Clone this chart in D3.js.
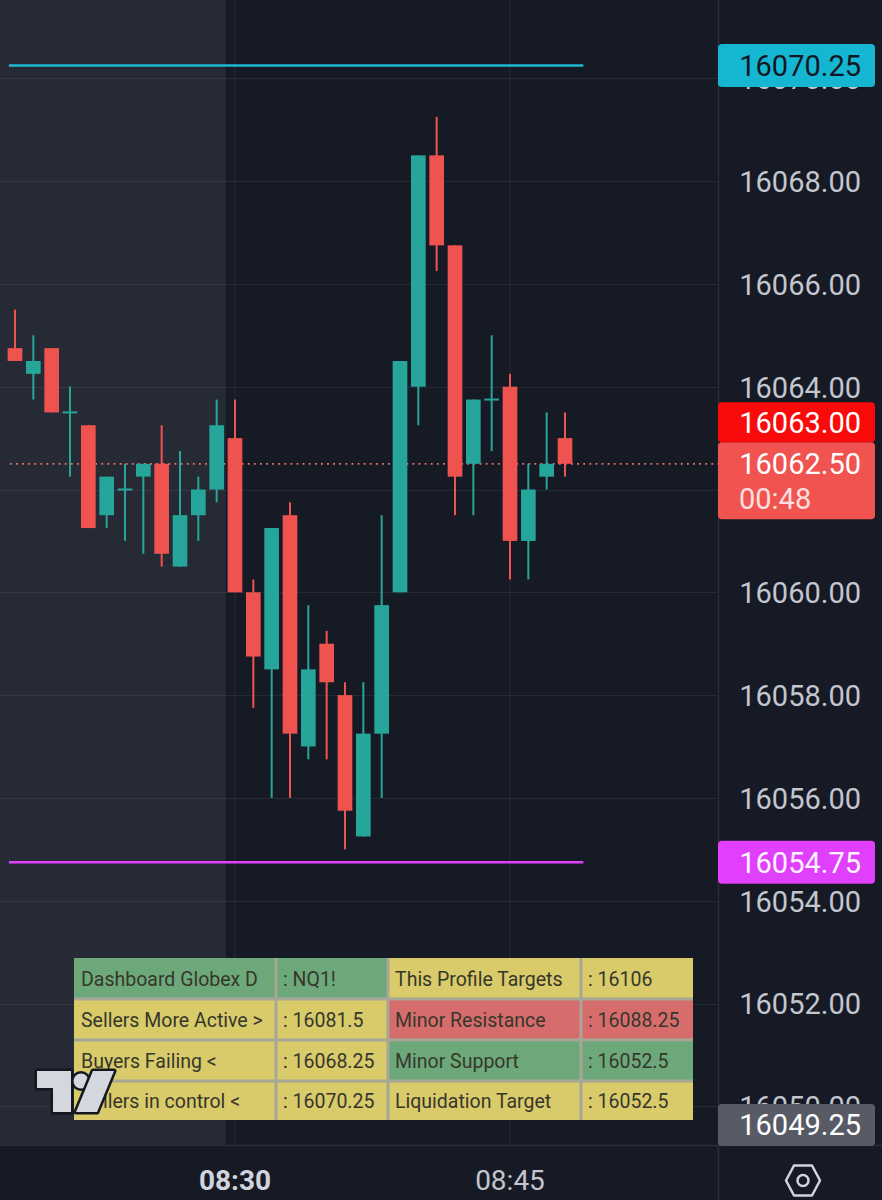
<!DOCTYPE html>
<html><head><meta charset="utf-8">
<script src="https://cdn.jsdelivr.net/npm/d3@7"></script>
<style>html,body{margin:0;padding:0;background:#161a25;overflow:hidden}svg{display:block}</style>
</head><body>
<script>
// ---- data ----
const times = ["08:18","08:19","08:20","08:21","08:22","08:23","08:24","08:25","08:26","08:27","08:28","08:29","08:30","08:31","08:32","08:33","08:34","08:35","08:36","08:37","08:38","08:39","08:40","08:41","08:42","08:43","08:44","08:45","08:46","08:47","08:48"];
const open  = [16064.75,16064.25,16064.75,16063.5,16063.25,16061.5,16062,16062.25,16062.5,16060.5,16061.5,16062,16063,16060,16058.5,16061.5,16057,16059,16058,16055.25,16057.25,16060,16064,16068.5,16066.75,16062.5,16063.75,16064,16061,16062.25,16063];
const high  = [16065.5,16065,16064.75,16064,16063.25,16062.25,16062.5,16062.5,16063.25,16062.75,16062.25,16063.75,16063.75,16060.25,16061.25,16061.75,16059.75,16059.25,16058.25,16058.25,16061.5,16064.5,16068.5,16069.25,16066.75,16063.75,16065,16064.25,16062.5,16063.5,16063.5];
const low   = [16064.5,16063.75,16063.5,16062.25,16061.25,16061.25,16061,16060.75,16060.5,16060.5,16061,16061.75,16060,16057.75,16056,16056,16056.75,16056.75,16055,16055.25,16056,16060,16063.25,16066.25,16061.5,16061.5,16062.75,16060.25,16060.25,16062,16062.25];
const close = [16064.5,16064.5,16063.5,16063.5,16061.25,16062.25,16062,16062.5,16060.75,16061.5,16062,16063.25,16060,16058.75,16061.25,16057.25,16058.5,16058.25,16055.75,16057.25,16059.75,16064.5,16068.5,16066.75,16062.25,16063.75,16063.75,16061,16062,16062.5,16062.5];
const priceTicks = [16050,16052,16054,16056,16058,16060,16062,16064,16066,16068,16070];
const timeTicks = ["08:30","08:45"];
const sessionStart = "08:30";
const upperLevel = 16070.25;
const lowerLevel = 16054.75;
const levelEnd = "08:49";
const lastPrice = 16062.50;
const countdown = "00:48";
const barHighLabel = 16063.00;
const visibleLowLabel = 16049.25;
const tableRows = [
  ["Dashboard Globex D", ": NQ1!", "This Profile Targets", ": 16106"],
  ["Sellers More Active >", ": 16081.5", "Minor Resistance", ": 16088.25"],
  ["Buyers Failing <", ": 16068.25", "Minor Support", ": 16052.5"],
  ["Sellers in control <", ": 16070.25", "Liquidation Target", ": 16052.5"]
];
const tableTones = [
  ["g","g","y","y"],
  ["y","y","r","r"],
  ["y","y","g","g"],
  ["y","y","y","y"]
];

// ---- layout ----
const W = 882, H = 1200;
const plotRight = 718, plotBottom = 1145;
const FONT = "Roboto, 'Noto Sans', sans-serif";
const UP = "#26a69a", DOWN = "#ef5350";

const parse = d3.timeParse("%H:%M");
const x = d3.scaleTime().domain([parse("08:30"), parse("08:45")]).range([235, 510]);
const y = d3.scaleLinear().domain([16052, 16068]).range([1003.5, 181.1]);
const step = x(parse("08:31")) - x(parse("08:30"));
const bodyW = step * 0.8;

const candles = times.map((t, i) => ({t: parse(t), o: open[i], h: high[i], l: low[i], c: close[i]}));

const svg = d3.select("body").append("svg").attr("width", W).attr("height", H)
  .style("font-family", FONT);

svg.append("rect").attr("width", W).attr("height", H).attr("fill", "#161a25");

// pre-session shading
svg.append("rect").attr("x", 0).attr("y", 0)
  .attr("width", x(parse(sessionStart)) - step / 2).attr("height", plotBottom)
  .attr("fill", "#262a34");

svg.append("clipPath").attr("id", "plot").append("rect")
  .attr("width", plotRight).attr("height", plotBottom);
const plot = svg.append("g").attr("clip-path", "url(#plot)");

// grid
plot.append("g").selectAll("line").data(priceTicks).join("line")
  .attr("x1", 0).attr("x2", plotRight)
  .attr("y1", d => Math.round(y(d)) + 0.5).attr("y2", d => Math.round(y(d)) + 0.5)
  .attr("stroke", "rgba(255,255,255,0.07)").attr("stroke-width", 1.2);
plot.append("g").selectAll("line").data(timeTicks).join("line")
  .attr("x1", d => x(parse(d))).attr("x2", d => x(parse(d)))
  .attr("y1", 0).attr("y2", plotBottom)
  .attr("stroke", "rgba(255,255,255,0.07)").attr("stroke-width", 1.2);

// level lines
const lvX0 = x(candles[0].t) - step / 3, lvX1 = x(parse(levelEnd));
plot.append("line").attr("x1", lvX0).attr("x2", lvX1)
  .attr("y1", y(upperLevel)).attr("y2", y(upperLevel))
  .attr("stroke", "#1fb8d2").attr("stroke-width", 2.5);
plot.append("line").attr("x1", lvX0).attr("x2", lvX1)
  .attr("y1", y(lowerLevel)).attr("y2", y(lowerLevel))
  .attr("stroke", "#e040fb").attr("stroke-width", 2.5);

// last price dotted line
plot.append("line").attr("x1", lvX0 + 1).attr("x2", plotRight)
  .attr("y1", y(lastPrice)).attr("y2", y(lastPrice))
  .attr("stroke", "#f0716e").attr("stroke-width", 1.8).attr("stroke-dasharray", "1.8,4.3");

// candles
const cg = plot.append("g").selectAll("g").data(candles).join("g");
cg.append("rect")
  .attr("x", d => x(d.t) - 1).attr("width", 2)
  .attr("y", d => y(d.h)).attr("height", d => Math.max(0.5, y(d.l) - y(d.h)))
  .attr("fill", d => d.c >= d.o ? UP : DOWN);
cg.append("rect")
  .attr("x", d => x(d.t) - bodyW / 2).attr("width", bodyW)
  .attr("y", d => d.o === d.c ? y(d.o) - 1 : y(Math.max(d.o, d.c)))
  .attr("height", d => Math.max(2, Math.abs(y(d.o) - y(d.c))))
  .attr("fill", d => d.c >= d.o ? UP : DOWN);

// dashboard table
const colEdges = [74, 276, 388, 581, 693];
const rowEdges = [958, 999, 1040, 1081, 1120];
const toneFill = {g: "#6da87a", y: "#d9ca6a", r: "#d66d6c"};
const tbl = svg.append("g");
tbl.append("rect").attr("x", colEdges[0]).attr("y", rowEdges[0])
  .attr("width", colEdges[4] - colEdges[0]).attr("height", rowEdges[4] - rowEdges[0])
  .attr("fill", "#a7a798");
tableRows.forEach((row, r) => {
  row.forEach((txt, c) => {
    const x0 = colEdges[c] + (c ? 1.5 : 0), x1 = colEdges[c + 1] - (c < 3 ? 1.5 : 0);
    const y0 = rowEdges[r] + (r ? 1.5 : 0), y1 = rowEdges[r + 1] - (r < 3 ? 1.5 : 0);
    tbl.append("rect").attr("x", x0).attr("y", y0).attr("width", x1 - x0).attr("height", y1 - y0)
      .attr("fill", toneFill[tableTones[r][c]]);
    tbl.append("text").attr("x", colEdges[c] + 7).attr("y", (rowEdges[r] + rowEdges[r + 1]) / 2)
      .attr("dy", "0.36em").attr("font-size", 19.5).attr("fill", "#36372c").text(txt);
  });
});

// TradingView logo
const logo = svg.append("g").attr("fill", "#d5d7de").attr("stroke", "#14171f")
  .attr("stroke-width", 5).attr("stroke-linejoin", "round").attr("paint-order", "stroke");
logo.append("path").attr("d", "M37,1071 L71,1071 L71,1112 L53,1112 L53,1088 L37,1088 Z");
logo.append("circle").attr("cx", 81).attr("cy", 1081).attr("r", 7.5);
logo.append("path").attr("d", "M93,1071 L114,1071 L97,1112 L76,1112 Z");

// axes panel borders
svg.append("line").attr("x1", plotRight + 0.5).attr("x2", plotRight + 0.5).attr("y1", 0).attr("y2", H)
  .attr("stroke", "#2a2e39").attr("stroke-width", 1.5);
svg.append("line").attr("x1", 0).attr("x2", W).attr("y1", plotBottom + 0.5).attr("y2", plotBottom + 0.5)
  .attr("stroke", "#2a2e39").attr("stroke-width", 1.5);

// price label boxes geometry
const curTop = y(lastPrice) - 21.5, curH = 77;
const hiTop = curTop - 40;

// price axis (labels fully covered by the last-price box are not drawn)
const shownTicks = priceTicks.filter(v => !(y(v) > hiTop + 8 && y(v) < curTop + curH - 8));
const yAxis = svg.append("g").attr("transform", "translate(861,0)")
  .call(d3.axisRight(y).tickValues(shownTicks).tickFormat(d3.format(".2f")).tickSize(0));
yAxis.select(".domain").remove();
yAxis.selectAll("text").attr("x", 0).attr("dy", "0.36em").attr("text-anchor", "end")
  .attr("font-family", FONT).attr("font-size", 29).attr("fill", "#c3c6ce");

// price labels
function priceBox(top, height, fill, lines) {
  const g = svg.append("g");
  g.append("rect").attr("x", plotRight).attr("y", top).attr("width", 157).attr("height", height)
    .attr("rx", 4).attr("fill", fill);
  lines.forEach(l => g.append("text")
    .attr("x", l.anchor === "start" ? 739 : 861).attr("y", l.y).attr("dy", "0.36em")
    .attr("text-anchor", l.anchor || "end").attr("font-size", 29).attr("fill", l.color).text(l.text));
}
const fmt = d3.format(".2f");
priceBox(y(upperLevel) - 21.5, 43, "#15b6d2", [{y: y(upperLevel), text: fmt(upperLevel), color: "#131722"}]);
priceBox(curTop, curH, "#f05350", [
  {y: y(lastPrice), text: fmt(lastPrice), color: "#ffffff"},
  {y: y(lastPrice) + 35, text: countdown, color: "#fde0de", anchor: "start"}]);
priceBox(hiTop, 40, "#fa0a0a", [{y: hiTop + 20, text: fmt(barHighLabel), color: "#ffffff"}]);
priceBox(y(lowerLevel) - 21.5, 43, "#e040fb", [{y: y(lowerLevel), text: fmt(lowerLevel), color: "#fff4ff"}]);
const lowTop = Math.min(y(visibleLowLabel) - 21.5, plotBottom + 1 - 42);
priceBox(lowTop, 42, "#585b66", [{y: lowTop + 21, text: fmt(visibleLowLabel), color: "#ffffff"}]);

// time axis
svg.append("g").selectAll("text").data(timeTicks).join("text")
  .attr("x", d => x(parse(d))).attr("y", 1180).attr("dy", "0.36em").attr("text-anchor", "middle")
  .attr("font-size", 28).attr("font-weight", d => d === sessionStart ? 700 : 400)
  .attr("fill", d => d === sessionStart ? "#d1d4dc" : "#c3c6ce").text(d => d);

// settings icon
const ic = svg.append("g").attr("transform", "translate(803,1180.5)")
  .attr("fill", "none").attr("stroke", "#d1d4dc").attr("stroke-width", 2.5).attr("stroke-linejoin", "round");
ic.append("path").attr("d", "M-17,0 L-9,-15 L9,-15 L17,0 L9,15 L-9,15 Z");
ic.append("circle").attr("r", 5.5);
</script>
</body></html>
